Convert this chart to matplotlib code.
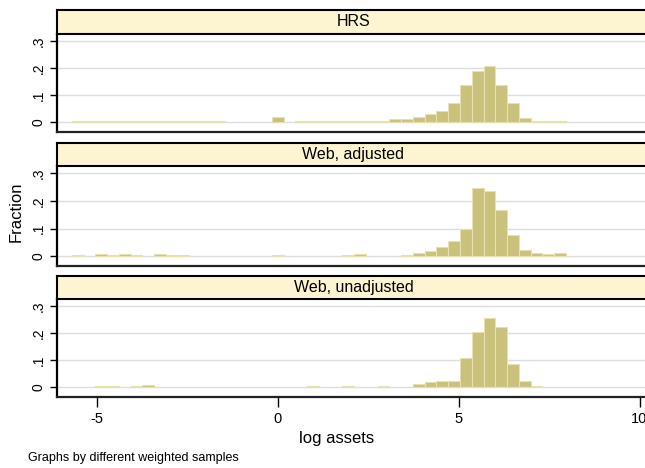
import numpy as np
import matplotlib
matplotlib.use("Agg")
import matplotlib.pyplot as plt

plt.rcParams['font.family'] = ['Liberation Sans', 'DejaVu Sans']

# histogram bins (log assets), common to all panels
bin_start = -5.70
bin_width = 0.3253
n_bins = 42

panel_titles = ["HRS", "Web, adjusted", "Web, unadjusted"]

frac_hrs = [0.004] * 13 + [0, 0, 0, 0, 0.022, 0] + [0.004] * 8 + [
    0.012, 0.012, 0.019, 0.030, 0.041, 0.072, 0.138, 0.190, 0.207,
    0.138, 0.072, 0.018, 0.005, 0.005, 0.005]

frac_web_adj = [0.004, 0, 0.009, 0.004, 0.009, 0.004, 0, 0.009, 0.004, 0.004,
                0, 0, 0, 0, 0, 0, 0, 0.004, 0, 0, 0, 0, 0, 0.004, 0.009,
                0, 0, 0, 0.005, 0.010, 0.017, 0.033, 0.055, 0.099, 0.247,
                0.235, 0.167, 0.078, 0.021, 0.011, 0.006, 0.011]

frac_web_unadj = [0, 0, 0.004, 0.004, 0, 0.004, 0.008, 0, 0, 0,
                  0, 0, 0, 0, 0, 0, 0, 0, 0, 0, 0.004, 0, 0, 0.004, 0,
                  0, 0.004, 0, 0, 0.014, 0.020, 0.025, 0.025, 0.110, 0.206,
                  0.257, 0.222, 0.086, 0.025, 0.004, 0, 0]

yticks = [0, 0.1, 0.2, 0.3]
ytick_labels = ["0", ".1", ".2", ".3"]
xticks = [-5, 0, 5, 10]

W, H = 645, 468
bar_color = "#c9c17c"
bar_edge = "#e6e1ae"
strip_color = "#fdf5d1"

fig = plt.figure(figsize=(W / 100, H / 100), dpi=100)
fig.patch.set_facecolor("white")

# pixel boxes: (strip top, strip bottom/plot top, plot bottom)
boxes = [(10, 34, 131.7), (143.3, 166, 265.5), (276, 299, 396.7)]
x_left, x_right = 57, 650

lefts = [bin_start + i * bin_width for i in range(n_bins)]
all_fracs = [frac_hrs, frac_web_adj, frac_web_unadj]

for k, (title, fracs) in enumerate(zip(panel_titles, all_fracs)):
    s_top, p_top, p_bot = boxes[k]
    ax = fig.add_axes([x_left / W, 1 - p_bot / H,
                       (x_right - x_left) / W, (p_bot - p_top) / H])
    xs = [l for l, f in zip(lefts, fracs) if f > 0]
    hs = [f for f in fracs if f > 0]
    ax.bar(xs, hs, width=bin_width, align="edge", color=bar_color,
           edgecolor=bar_edge, linewidth=0.8, zorder=3)
    ax.set_xlim(-6.11, 10.29)
    ax.set_ylim(-0.034, 0.327)
    ax.set_yticks(yticks)
    ax.set_yticklabels(ytick_labels, rotation=90, va="center", fontsize=10)
    ax.tick_params(axis="y", length=5, width=1, pad=3)
    ax.grid(axis="y", color="#dedede", linewidth=1, zorder=0)
    for s in ["top", "right"]:
        ax.spines[s].set_visible(False)
    ax.spines["left"].set_linewidth(1.6)
    ax.spines["bottom"].set_linewidth(1.6)
    ax.spines["bottom"].set_color("#222222")
    if k < 2:
        ax.set_xticks([])
    else:
        ax.set_xticks(xticks)
        ax.set_xticklabels([str(t) for t in xticks], fontsize=10.5)
        ax.tick_params(axis="x", length=7, width=1, pad=4)

    sax = fig.add_axes([x_left / W, 1 - p_top / H,
                        (x_right - x_left) / W, (p_top - s_top) / H])
    sax.set_facecolor(strip_color)
    sax.set_xticks([])
    sax.set_yticks([])
    for s in sax.spines.values():
        s.set_linewidth(1.5)
    sax.text(0.5, 0.5, title, ha="center", va="center", fontsize=11.5,
             transform=sax.transAxes)

fig.text(16 / W, 1 - 212 / H, "Fraction", rotation=90, ha="center",
         va="center", fontsize=12)
fig.text(337 / W, 1 - 438 / H, "log assets", ha="center", va="center",
         fontsize=12)
fig.text(28 / W, 1 - 458 / H, "Graphs by different weighted samples",
         ha="left", va="center", fontsize=9)

fig.savefig("out.png", dpi=100)
